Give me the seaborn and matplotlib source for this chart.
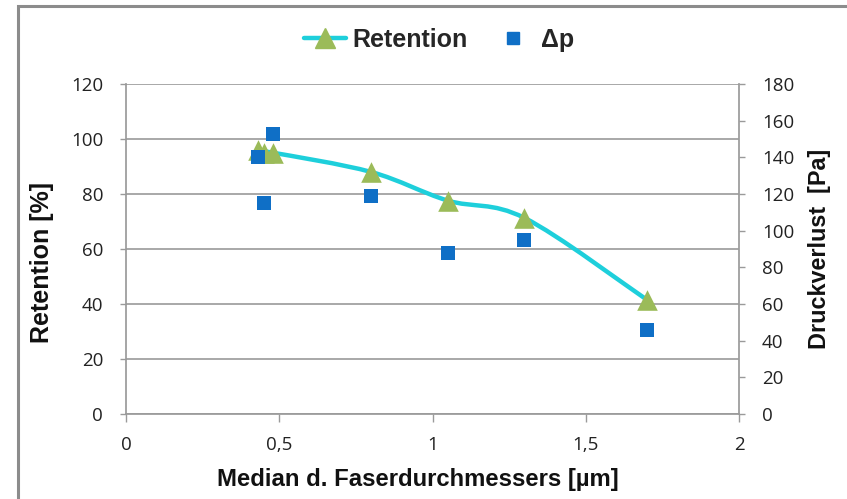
import numpy as np
import pandas as pd
import matplotlib
matplotlib.use("Agg")
import matplotlib.pyplot as plt
import seaborn as sns
from matplotlib.path import Path
from matplotlib.patches import PathPatch, Rectangle
from matplotlib.lines import Line2D

# ---- data ----
ret_x = [0.43, 0.45, 0.48, 0.80, 1.05, 1.30, 1.70]
ret_y = [96.0, 95.0, 95.0, 88.0, 77.6, 71.3, 41.5]
dp_x = [0.43, 0.45, 0.48, 0.80, 1.05, 1.30, 1.70]
dp_y = [140.0, 115.0, 153.0, 119.0, 88.0, 95.0, 46.0]
x_ticks = [0, 0.5, 1, 1.5, 2]
x_ticklabels = ["0", "0,5", "1", "1,5", "2"]
left_ticks = [0, 20, 40, 60, 80, 100, 120]
right_ticks = [0, 20, 40, 60, 80, 100, 120, 140, 160, 180]

LINE_C = "#1ECFDB"
TRI_C = "#9BBB59"
SQ_C = "#0F6FC6"
GRID_C = "#9A9A9A"
TICK_FONT = ["Open Sans", "DejaVu Sans"]

sns.set_theme(style="white")
plt.rcParams["font.family"] = ["Liberation Sans", "DejaVu Sans"]

fig = plt.figure(figsize=(8.47, 4.99), dpi=100)
ax = fig.add_axes([126 / 847, 1 - 414 / 499, (739 - 126) / 847, (414 - 84) / 499])
ax2 = ax.twinx()

# chart border
fig.patches.append(Rectangle((18 / 847, -0.05), 1.1, 1 - 6 / 499 + 0.05,
                             transform=fig.transFigure, fill=False,
                             edgecolor="#8C8C8C", linewidth=2.2, zorder=0))

# smooth (Excel-like) curve through the retention points
pts = np.column_stack([ret_x, ret_y])
verts = [tuple(pts[0])]
codes = [Path.MOVETO]
n = len(pts)
for i in range(n - 1):
    p0 = pts[i - 1] if i > 0 else pts[i]
    p1 = pts[i]
    p2 = pts[i + 1]
    p3 = pts[i + 2] if i + 2 < n else pts[i + 1]
    c1 = p1 + (p2 - p0) / 6.0
    c2 = p2 - (p3 - p1) / 6.0
    verts += [tuple(c1), tuple(c2), tuple(p2)]
    codes += [Path.CURVE4] * 3
ax.add_patch(PathPatch(Path(verts, codes), fill=False, edgecolor=LINE_C,
                       linewidth=3.2, zorder=3, capstyle="round"))

df_ret = pd.DataFrame({"x": ret_x, "y": ret_y})
sns.scatterplot(data=df_ret, x="x", y="y", ax=ax, marker="^", s=220,
                color=TRI_C, edgecolor=TRI_C, linewidth=0, zorder=4, legend=False)

df_dp = pd.DataFrame({"x": dp_x, "y": dp_y})
sns.scatterplot(data=df_dp, x="x", y="y", ax=ax2, marker="s", s=100,
                color=SQ_C, edgecolor=SQ_C, linewidth=0, zorder=5, legend=False)

ax.set_zorder(2)
ax.patch.set_visible(False)
ax2.set_zorder(3)

ax.set_xlim(0, 2)
ax.set_ylim(0, 120)
ax2.set_ylim(0, 180)
ax.set_xticks(x_ticks)
ax.set_xticklabels(x_ticklabels)
ax.set_yticks(left_ticks)
ax2.set_yticks(right_ticks)

for a in (ax, ax2):
    for s in a.spines.values():
        s.set_visible(False)
    a.tick_params(labelsize=13.5, labelcolor="#222222", color=GRID_C,
                  length=4.5, width=1, pad=12)
    for lab in a.get_xticklabels() + a.get_yticklabels():
        lab.set_family(TICK_FONT)

ax.spines["left"].set_visible(True)
ax.spines["bottom"].set_visible(True)
ax.spines["left"].set_color(GRID_C)
ax.spines["bottom"].set_color(GRID_C)
ax2.spines["right"].set_visible(True)
ax2.spines["right"].set_color(GRID_C)
ax.tick_params(axis="x", length=6, pad=10)

ax.yaxis.grid(True, color=GRID_C, linewidth=1.2)
ax.set_axisbelow(True)
ax.tick_params(left=True, bottom=True)
ax2.tick_params(right=True)

ax.set_xlabel("Median d. Faserdurchmessers [µm]", fontsize=17.2,
              fontweight="bold", color="#111111")
ax.xaxis.set_label_coords(0.4755, -0.165)
ax.set_ylabel("Retention [%]", fontsize=18, fontweight="bold", color="#111111")
ax.yaxis.set_label_coords(-0.118, 0.4606)
ax2.set_ylabel("Druckverlust  [Pa]", fontsize=16.8, fontweight="bold",
               labelpad=10, color="#111111")

handles = [
    Line2D([0], [0], color=LINE_C, linewidth=3.2, marker="^", markersize=14,
           markerfacecolor=TRI_C, markeredgecolor=TRI_C),
    Line2D([0], [0], linestyle="none", marker="s", markersize=9,
           markerfacecolor=SQ_C, markeredgecolor=SQ_C),
]
fig.legend(handles, ["Retention", "Δp"], loc="center",
           bbox_to_anchor=(439 / 847, 1 - 40 / 499), ncol=2, frameon=False,
           prop={"weight": "bold", "size": 18}, handlelength=1.68,
           columnspacing=0.96, handletextpad=0.28)

fig.savefig("out.png", dpi=100)
